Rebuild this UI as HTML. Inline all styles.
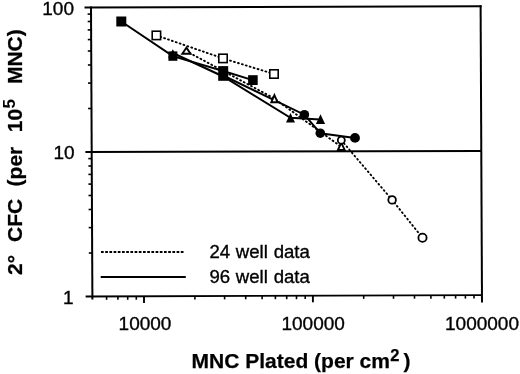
<!DOCTYPE html>
<html><head><meta charset="utf-8">
<style>
html,body{margin:0;padding:0;background:#fff;}
body{width:520px;height:374px;overflow:hidden;}
svg{display:block;filter:grayscale(1);}
text{font-family:"Liberation Sans",sans-serif;fill:#000;}
.tl{font-size:19px;stroke:#000;stroke-width:0.35px;}
.ttl{font-size:21px;font-weight:bold;stroke:#000;stroke-width:0.25px;}
.lg{font-size:18.6px;word-spacing:0.6px;stroke:#000;stroke-width:0.35px;}
</style></head>
<body>
<svg width="520" height="374" viewBox="0 0 520 374">
<g id="frame" stroke="#000" fill="none" stroke-linecap="butt">
  <line x1="84.5" y1="7.5" x2="481.6" y2="6.3" stroke-width="2"/>
  <line x1="480.6" y1="5.3" x2="482" y2="302.6" stroke-width="2"/>
  <line x1="91" y1="6.5" x2="92.4" y2="299.6" stroke-width="2"/>
  <line x1="85.6" y1="296.5" x2="482" y2="295.1" stroke-width="1.9"/>
  <line x1="85.4" y1="152" x2="481" y2="150.9" stroke-width="2"/>
</g>
<g id="ticks" stroke="#000" stroke-width="1.6">
<line x1="106.6" y1="296.4" x2="106.6" y2="299.8"/>
<line x1="117.9" y1="296.4" x2="117.9" y2="299.8"/>
<line x1="127.7" y1="296.4" x2="127.7" y2="299.8"/>
<line x1="136.3" y1="296.3" x2="136.3" y2="299.7"/>
<line x1="194.9" y1="296.1" x2="194.9" y2="299.5"/>
<line x1="224.6" y1="296.0" x2="224.6" y2="299.4"/>
<line x1="245.7" y1="295.9" x2="245.7" y2="299.3"/>
<line x1="262.1" y1="295.9" x2="262.1" y2="299.3"/>
<line x1="275.4" y1="295.8" x2="275.4" y2="299.2"/>
<line x1="286.7" y1="295.8" x2="286.7" y2="299.2"/>
<line x1="296.5" y1="295.8" x2="296.5" y2="299.2"/>
<line x1="305.2" y1="295.7" x2="305.2" y2="299.1"/>
<line x1="363.7" y1="295.5" x2="363.7" y2="298.9"/>
<line x1="393.5" y1="295.4" x2="393.5" y2="298.8"/>
<line x1="414.5" y1="295.3" x2="414.5" y2="298.7"/>
<line x1="430.9" y1="295.3" x2="430.9" y2="298.7"/>
<line x1="444.3" y1="295.2" x2="444.3" y2="298.6"/>
<line x1="455.6" y1="295.2" x2="455.6" y2="298.6"/>
<line x1="465.4" y1="295.2" x2="465.4" y2="298.6"/>
<line x1="474.0" y1="295.1" x2="474.0" y2="298.5"/>
<line x1="144.0" y1="296.3" x2="144.0" y2="302.9" stroke-width="1.9"/>
<line x1="312.9" y1="295.7" x2="312.9" y2="302.3" stroke-width="1.9"/>
<line x1="92.2" y1="253.0" x2="88.8" y2="253.0"/>
<line x1="92.1" y1="227.6" x2="88.7" y2="227.6"/>
<line x1="92.0" y1="209.5" x2="88.6" y2="209.5"/>
<line x1="91.9" y1="195.5" x2="88.5" y2="195.5"/>
<line x1="91.8" y1="184.1" x2="88.4" y2="184.1"/>
<line x1="91.8" y1="174.4" x2="88.4" y2="174.4"/>
<line x1="91.8" y1="166.0" x2="88.4" y2="166.0"/>
<line x1="91.7" y1="158.6" x2="88.3" y2="158.6"/>
<line x1="91.5" y1="108.5" x2="88.1" y2="108.5"/>
<line x1="91.4" y1="83.1" x2="88.0" y2="83.1"/>
<line x1="91.3" y1="65.0" x2="87.9" y2="65.0"/>
<line x1="91.2" y1="51.0" x2="87.8" y2="51.0"/>
<line x1="91.2" y1="39.6" x2="87.8" y2="39.6"/>
<line x1="91.1" y1="29.9" x2="87.7" y2="29.9"/>
<line x1="91.1" y1="21.5" x2="87.7" y2="21.5"/>
<line x1="91.0" y1="14.1" x2="87.6" y2="14.1"/>
</g>
<g id="labels">
  <text class="tl" x="74" y="15" text-anchor="end">100</text>
  <text class="tl" x="74.6" y="158.8" text-anchor="end">10</text>
  <text class="tl" x="73.5" y="303.5" text-anchor="end">1</text>
  <text class="tl" x="145" y="330.3" text-anchor="middle">10000</text>
  <text class="tl" x="313.2" y="330.3" text-anchor="middle">100000</text>
  <text class="tl" x="482" y="330.3" text-anchor="middle">1000000</text>
</g>
<g class="ttl">
<text class="ttl" x="191.6" y="368">MNC Plated (per cm</text>
<text x="390.3" y="360.8" style="font-size:16.5px;font-weight:bold">2</text>
<text class="ttl" x="403.4" y="368">)</text>
</g>
<g class="ytitle">
<text class="ttl" transform="translate(21.5,275) rotate(-90)">2°</text>
<text class="ttl" transform="translate(21.5,242) rotate(-90)">CFC</text>
<text class="ttl" transform="translate(21.5,186.4) rotate(-90)">(per</text>
<text class="ttl" transform="translate(21.5,132.2) rotate(-90)">10</text>
<text transform="translate(15.4,108.4) rotate(-90)" style="font-size:17px;font-weight:bold">5</text>
<text class="ttl" transform="translate(21.5,84.1) rotate(-90)">MNC)</text>
</g>
<g id="legend">
  <line x1="101" y1="252" x2="184.6" y2="252" stroke="#000" stroke-width="2.1" stroke-dasharray="2.7,1.5"/>
  <line x1="100.7" y1="277" x2="185.8" y2="277" stroke="#000" stroke-width="2.2"/>
  <text class="lg" x="209.4" y="258">24 well data</text>
  <text class="lg" x="209.4" y="283.4">96 well data</text>
</g>
<g id="lines" fill="none" stroke="#000">
  <!-- 24 well dotted -->
  <g stroke-width="1.9" stroke-dasharray="0.9,3.2" stroke-linecap="round">
    <polyline points="156.4,35.4 223,58.4 274,74"/>
    <polyline points="186,51 273.8,98.2 341.5,147"/>
    <polyline points="341.3,140.2 392.1,199.9 422.5,237.8"/>
  </g>
  <!-- 96 well solid -->
  <g stroke-width="2">
    <polyline points="121.3,21.5 172.8,56.2 223.2,71 252.8,80.1"/>
    <polyline points="172.8,53 223.2,76.5 290.5,117.8 320,119.4"/>
    <polyline points="223.2,75.5 304.4,114.7 320.3,133.2 355,137.9"/>
  </g>
</g>
<g id="markers">
  <!-- open (24 well) -->
  <g fill="#fff" stroke="#000" stroke-width="1.6">
    <rect x="152.2" y="31.2" width="8.4" height="8.4"/>
    <rect x="218.8" y="54.2" width="8.4" height="8.4"/>
    <rect x="269.8" y="69.8" width="8.4" height="8.4"/>
    <path d="M186.4,47.6 L190.5,53.7 L182.3,53.7 Z" stroke-width="1.9"/>
    <path d="M274.4,95.2 L277.5,102.2 L271.3,102.2 Z" stroke-width="1.9"/>
    <path d="M341.3,142.6 L344.7,150 L337.9,150 Z" stroke-width="1.9"/>
    <circle cx="341.3" cy="140.2" r="3.5" stroke-width="1.8"/>
    <circle cx="392.1" cy="199.9" r="3.8" stroke-width="1.8"/>
    <circle cx="422.5" cy="237.8" r="4.1" stroke-width="1.8"/>
  </g>
  <!-- filled (96 well) -->
  <g fill="#000">
    <rect x="116.3" y="16.5" width="10" height="10"/>
    <path d="M172.8,49.2 L177.6,57.8 L168,57.8 Z"/>
    <rect x="168.4" y="51.4" width="9" height="9.4"/>
    <rect x="218.2" y="66.1" width="10" height="14.7"/>
    <rect x="248.1" y="75.2" width="9.6" height="9.8"/>
    <path d="M290.5,113 L295,122.4 L286,122.4 Z"/>
    <path d="M320.5,114.2 L325.1,124.1 L315.9,124.1 Z"/>
    <circle cx="304.4" cy="114.7" r="4.8"/>
    <circle cx="320.3" cy="133.2" r="4.8"/>
    <circle cx="355" cy="137.9" r="4.9"/>
  </g>
</g>
</svg>
</body></html>
